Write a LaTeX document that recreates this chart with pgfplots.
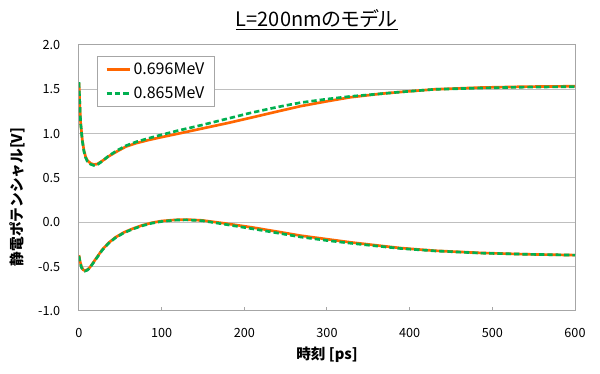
\documentclass[border=0pt]{standalone}
\usepackage{fontspec}
\setmainfont{Noto Sans CJK JP}
\newfontfamily\palt{Noto Sans CJK JP}[RawFeature=+palt]
\usepackage{pgfplots}
\pgfplotsset{compat=1.18}
\definecolor{cOrange}{RGB}{255,102,0}
\definecolor{cGreen}{RGB}{0,176,80}
\definecolor{cGrid}{RGB}{191,191,191}
\definecolor{cAxis}{RGB}{166,166,166}
\begin{document}
\begin{tikzpicture}
\begin{axis}[
  at={(0pt,0pt)}, anchor=south west,
  scale only axis, width=372pt, height=199.5pt,
  xmin=0, xmax=600, ymin=-1, ymax=2,
  xtick={0,100,...,600}, ytick={-1,-0.5,...,2},
  /pgf/number format/assume math mode=true,
  /pgf/number format/fixed, /pgf/number format/fixed zerofill, /pgf/number format/precision=1,
  xticklabel style={/pgf/number format/precision=0, /pgf/number format/fixed zerofill=false, anchor=base, inner sep=0pt, yshift=-19.9pt},
  yticklabel style={anchor=east, inner sep=0pt, xshift=-13.9pt},
  tick label style={font=\fontsize{9.5pt}{11pt}\selectfont},
  ymajorgrids, grid style={cGrid, line width=0.75pt},
  axis line style={cAxis, line width=0.75pt},
  tick align=inside, xtick pos=bottom, ytick style={draw=none},
  xtick style={cAxis, line width=0.75pt}, major tick length=3pt,
  legend style={at={(0.0357,0.96)}, anchor=north west, draw=cAxis, line width=0.75pt,
    font=\fontsize{12pt}{14pt}\selectfont, inner xsep=6pt, inner ysep=2pt, row sep=1.5pt,
    nodes={inner xsep=2pt, inner ysep=3pt}},
  legend cell align=left,
  legend image code/.code={\draw[#1] (0pt,0pt) -- (17.25pt,0pt);},
]
\addplot[cOrange, line width=2pt] coordinates {
(0,1.57) (1,1.32) (2,1.12) (4,0.93) (6,0.81) (8,0.74) (10,0.70) (14,0.665) (18,0.652) (22,0.657)
(26,0.68) (30,0.705) (36,0.745) (46,0.80) (57,0.855) (70,0.895) (85,0.93) (97,0.955) (120,1.00)
(150,1.06) (180,1.12) (208,1.18) (240,1.25) (268,1.31) (300,1.365) (328,1.41) (365,1.45) (389,1.47)
(430,1.50) (486,1.52) (540,1.53) (600,1.535)
};
\addlegendentry{0.696MeV}
\addplot[cGreen, line width=2pt, dash pattern=on 4pt off 2.25pt] coordinates {
(0,1.58) (1,1.32) (2,1.12) (4,0.92) (6,0.80) (8,0.73) (10,0.69) (14,0.655) (18,0.642) (22,0.648)
(26,0.675) (30,0.705) (36,0.75) (46,0.81) (57,0.865) (70,0.91) (85,0.95) (97,0.98) (120,1.035)
(150,1.10) (180,1.17) (208,1.235) (240,1.30) (268,1.35) (300,1.39) (328,1.42) (365,1.45) (389,1.47)
(430,1.50) (486,1.515) (540,1.525) (600,1.53)
};
\addlegendentry{0.865MeV}
\addplot[cOrange, line width=2pt, forget plot] coordinates {
(0,-0.37) (1,-0.43) (3,-0.50) (5,-0.535) (7,-0.545) (10,-0.535) (13,-0.51) (16,-0.47) (22,-0.39)
(28,-0.31) (36,-0.23) (44,-0.17) (54,-0.115) (64,-0.075) (76,-0.035) (88,-0.005) (100,0.015)
(117,0.028) (130,0.031) (149,0.022) (175,-0.01) (208,-0.055) (240,-0.105) (268,-0.15) (300,-0.19)
(328,-0.225) (365,-0.265) (389,-0.29) (430,-0.32) (486,-0.345) (540,-0.36) (600,-0.37)
};
\addplot[cGreen, line width=2pt, dash pattern=on 4pt off 2.25pt, forget plot] coordinates {
(0,-0.38) (1,-0.44) (3,-0.51) (5,-0.54) (7,-0.55) (10,-0.54) (13,-0.515) (16,-0.475) (22,-0.395)
(28,-0.315) (36,-0.235) (44,-0.175) (54,-0.12) (64,-0.08) (76,-0.04) (88,-0.01) (100,0.01)
(117,0.025) (130,0.028) (149,0.018) (175,-0.02) (208,-0.07) (240,-0.12) (268,-0.165) (300,-0.205)
(328,-0.235) (365,-0.272) (389,-0.295) (430,-0.322) (486,-0.347) (540,-0.36) (600,-0.37)
};
\end{axis}
\node[font=\palt\fontsize{15pt}{17pt}\selectfont, anchor=base, inner sep=0pt] at (178.3pt,213.2pt) {\underline{L=200nmのモデル}};
\node[font=\bfseries\fontsize{11pt}{13pt}\selectfont] at (186pt,-33pt) {時刻 [ps]};
\node[font=\bfseries\fontsize{11pt}{13pt}\selectfont, rotate=90] at (-46pt,85.5pt) {静電ポテンシャル[V]};
\pgfresetboundingbox
\path[use as bounding box] (-59.25pt,-47.25pt) rectangle (390.75pt,233.25pt);
\end{tikzpicture}
\end{document}
